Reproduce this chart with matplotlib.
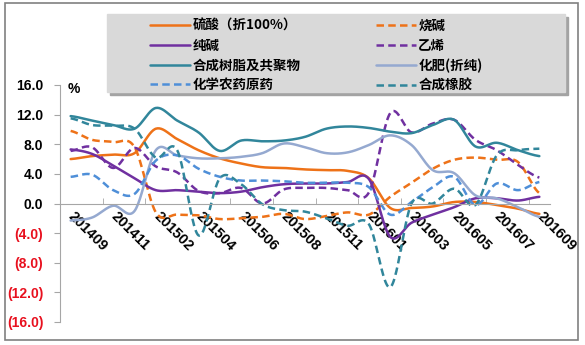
import numpy as np
import matplotlib.pyplot as plt
from matplotlib.patches import Rectangle

plt.rcParams['font.family'] = ['Noto Sans CJK SC', 'DejaVu Sans']

# categories (Jan merged into Feb, one month missing in 2015 H2)
months = ['201409', '201410', '201411', '201412', '201502', '201503', '201504',
          '201505', '201506', '201507', '201508', '201509', '201511', '201512',
          '201601', '201602', '201603', '201604', '201605', '201606', '201607',
          '201608', '201609']

names = ['硫酸（折100%）', '烧碱', '纯碱', '乙烯', '合成树脂及共聚物',
         '化肥(折纯)', '化学农药原药', '合成橡胶']

sulfuric = [6.0, 6.4, 6.6, 6.8, 10.1, 8.7, 7.2, 6.1, 5.4, 4.9, 4.8, 4.6,
            4.5, 4.4, 3.4, -0.6, -0.6, -0.4, 0.2, 0.2, -0.2, -0.7, -1.4]
caustic = [9.8, 8.6, 8.3, 7.6, -1.2, -1.5, -1.6, -2.1, -2.0, -1.8, -1.4, -2.1,
           -1.7, -1.2, -1.5, 0.9, 2.8, 4.7, 5.9, 6.2, 5.9, 5.6, 1.4]
soda_ash = [7.3, 6.7, 5.1, 3.4, 1.8, 1.8, 1.6, 1.4, 1.6, 2.2, 2.6, 2.7,
            2.7, 2.9, 3.3, -4.5, -2.6, -1.5, -0.5, 0.7, 0.7, 0.4, 0.9]
ethylene = [7.1, 7.6, 4.8, 7.5, 5.0, 4.2, 1.7, 1.4, 2.1, 0.0, 1.9, 2.1,
            2.1, 1.8, 1.5, 12.2, 9.6, 10.8, 11.3, 8.6, 7.2, 5.2, 3.5]
resin = [11.8, 11.2, 10.6, 10.1, 12.9, 11.2, 9.6, 7.1, 8.5, 8.4, 8.5, 9.0,
         10.1, 10.4, 10.2, 9.7, 9.5, 10.6, 11.3, 7.7, 8.2, 7.2, 6.4]
fertilizer = [-2.3, -1.9, -0.3, -1.0, 7.2, 6.5, 6.1, 6.1, 6.3, 6.8, 8.1, 7.6,
              6.8, 6.9, 7.9, 9.2, 7.9, 4.5, 4.1, 1.1, 0.7, -0.5, -1.8]
pesticide = [3.6, 3.9, 1.8, 1.3, 5.8, 6.5, 4.7, 3.6, 3.1, 3.1, 3.0, 2.8,
             2.8, 2.8, 2.2, -1.5, 0.2, 2.2, 3.6, -0.2, 2.7, 1.8, 2.9]
rubber = [11.5, 10.6, 10.5, 10.1, 6.2, 7.2, -4.3, 3.4, 2.6, -0.1, -0.9, -1.1,
          -2.0, -3.0, -2.8, -11.3, 0.0, 0.0, 2.0, -0.2, 6.5, 7.2, 7.4]

series = [sulfuric, caustic, soda_ash, ethylene, resin, fertilizer, pesticide, rubber]
colors = ['#EE7218', '#EE7218', '#7030A0', '#7030A0', '#31869B', '#95A9D0',
          '#4F8FD8', '#31869B']
styles = ['-', '--', '-', '--', '-', '-', '--', '--']


def smooth(y, n=24):
    # excel-like smoothed line (bezier through the points)
    y = np.asarray(y, float)
    p = np.concatenate([[y[0]], y, [y[-1]]])
    xs, ys = [], []
    t = np.linspace(0, 1, n, endpoint=False)
    for i in range(len(y) - 1):
        p0, p1, p2, p3 = p[i], p[i + 1], p[i + 2], p[i + 3]
        c1 = p1 + (p2 - p0) / 6.0
        c2 = p2 - (p3 - p1) / 6.0
        b = (1 - t) ** 3 * p1 + 3 * (1 - t) ** 2 * t * c1 + 3 * (1 - t) * t ** 2 * c2 + t ** 3 * p2
        xs.append(i + t)
        ys.append(b)
    xs.append([len(y) - 1])
    ys.append([y[-1]])
    return np.concatenate(xs), np.concatenate(ys)


W, H = 585, 345
fig = plt.figure(figsize=(W / 100, H / 100), dpi=100)
ax = fig.add_axes([60 / W, 1 - 322 / H, 490 / W, 237 / H])

lines = []
for vals, c, ls, nm in zip(series, colors, styles, names):
    xs, ys = smooth(vals)
    ln, = ax.plot(xs, ys, color=c, lw=1.8, ls=ls, label=nm, solid_capstyle='round')
    if ls == '--':
        ln.set_dashes((3.0, 1.7))
    lines.append(ln)

# spines first (set_position resets the ticks)
ax.spines['top'].set_visible(False)
ax.spines['right'].set_visible(False)
ax.spines['left'].set_color('#A6A6A6')
ax.spines['bottom'].set_color('#A6A6A6')
ax.spines['bottom'].set_position(('data', 0))
ax.patch.set_alpha(0)

ax.set_xlim(-0.5, len(months) - 0.5)
ax.set_ylim(-16, 16)

yt = np.arange(-16, 17, 4)
ax.set_yticks(yt)
ax.set_yticklabels(['%.1f' % v if v >= 0 else '(%.1f)' % -v for v in yt],
                   fontfamily='Liberation Sans', fontweight='bold', fontsize=10)
for lab, v in zip(ax.get_yticklabels(), yt):
    lab.set_color('black' if v >= 0 else '#E8101E')
ax.tick_params(axis='y', direction='out', length=4, color='#A6A6A6', pad=8)

# labels on every second category, tick marks between categories
ax.set_xticks(np.arange(0, len(months), 2))
ax.set_xticklabels(months[::2], rotation=-45, rotation_mode='anchor',
                   ha='left', va='center', fontfamily='Liberation Sans',
                   fontweight='bold', fontsize=10.5)
ax.set_xticks(np.arange(-0.5, len(months) - 1, 2), minor=True)
ax.tick_params(axis='x', which='major', length=0, pad=8)
ax.tick_params(axis='x', which='minor', direction='in', length=4, color='#A6A6A6')

ax.text(0.016, 0.985, '%', transform=ax.transAxes, ha='left', va='center',
        fontsize=10, fontweight='bold', fontfamily='Liberation Sans')

# legend box with shadow
fig.patches.append(Rectangle((110 / W, 1 - 95 / H), 458 / W, 78 / H,
                             transform=fig.transFigure, color='#A3A3A3', zorder=0))
fig.patches.append(Rectangle((107 / W, 1 - 92 / H), 458 / W, 78 / H,
                             transform=fig.transFigure, color='#D9D9D9', zorder=0))

order = [0, 2, 4, 6, 1, 3, 5, 7]
leg = fig.legend([lines[i] for i in order], [names[i] for i in order], ncol=2,
                 loc='upper left', bbox_to_anchor=(150 / W, 1 - 19 / H),
                 frameon=False, borderpad=0, borderaxespad=0,
                 handlelength=2.95, handletextpad=0.2, columnspacing=5.6,
                 labelspacing=0.42,
                 prop={'family': ['Noto Sans CJK SC'], 'weight': 'bold', 'size': 9.7})

# chart border
fig.patches.append(Rectangle((5 / W, 1 - 340 / H), 573 / W, 337 / H, fill=False,
                             transform=fig.transFigure, edgecolor='#808080', lw=1.2))

fig.savefig('out.png', dpi=100)
